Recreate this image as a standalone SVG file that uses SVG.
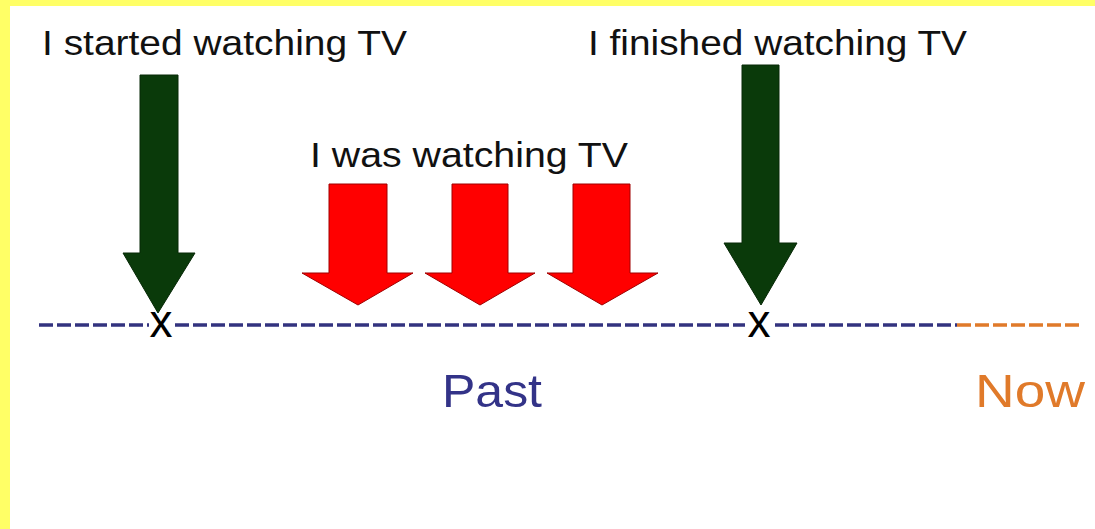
<svg xmlns="http://www.w3.org/2000/svg" width="1095" height="529" viewBox="0 0 1095 529">
<style>
.lbl{font-family:"Liberation Sans",Arial,sans-serif;font-size:35px;fill:#111}
.big{font-family:"Liberation Sans",Arial,sans-serif;font-size:47px}
.mark{font-family:"Liberation Sans",Arial,sans-serif;font-size:46px;fill:#000;text-anchor:middle}
.green{fill:#0a3a0a;stroke:#062806;stroke-width:1}
.red{fill:#ff0000;stroke:#a00000;stroke-width:1}
.navy{stroke:#33337f;stroke-width:3.5;stroke-dasharray:14 4;fill:none}
.orange{stroke:#e07a2a;stroke-width:3.5;stroke-dasharray:14 4;fill:none}
</style>
<rect width="1095" height="529" fill="#ffff66"/>
<rect x="10" y="6" width="1085" height="523" fill="#ffffff"/>
<g id="timeline">
<line class="navy" x1="39" y1="325" x2="149" y2="325"/>
<line class="navy" x1="175" y1="325" x2="745" y2="325"/>
<line class="navy" x1="775" y1="325" x2="957" y2="325"/>
<line class="orange" x1="957" y1="325" x2="1083" y2="325"/>
</g>
<g id="start-arrow">
<polygon class="green" points="140,75 178,75 178,253 195,253 158,313 123,253 140,253"/>
<text class="lbl" x="42" y="55" textLength="365" lengthAdjust="spacingAndGlyphs">I started watching TV</text>
<text class="mark" x="161" y="337">x</text>
</g>
<g id="finish-arrow">
<polygon class="green" points="742,65 779,65 779,243 797,243 761,305 724,243 742,243"/>
<text class="lbl" x="588" y="55" textLength="379" lengthAdjust="spacingAndGlyphs">I finished watching TV</text>
<text class="mark" x="759" y="337">x</text>
</g>
<g id="was-watching">
<text class="lbl" x="310" y="167" textLength="318" lengthAdjust="spacingAndGlyphs">I was watching TV</text>
<polygon class="red" points="329,184 387,184 387,273 413,273 358,305 302,273 329,273"/>
<polygon class="red" points="452,184 508,184 508,273 535,273 480,305 425,273 452,273"/>
<polygon class="red" points="573,184 630,184 630,273 658,273 602,305 547,273 573,273"/>
</g>
<g id="past">
<text class="big" x="442" y="407" fill="#333388" textLength="100" lengthAdjust="spacingAndGlyphs">Past</text>
</g>
<g id="now">
<text class="big" x="975" y="407" fill="#e07a2a" textLength="110" lengthAdjust="spacingAndGlyphs">Now</text>
</g>
</svg>
